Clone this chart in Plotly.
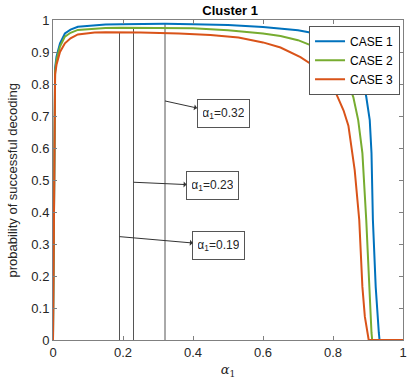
import plotly.graph_objects as go

# ---- data ----
case1_x = [0, 0.003, 0.006, 0.01, 0.015, 0.02, 0.034, 0.05, 0.071, 0.1, 0.119, 0.15, 0.194, 0.25, 0.32, 0.4, 0.5,
           0.6, 0.65, 0.7, 0.773, 0.8, 0.83, 0.86, 0.881, 0.895, 0.905, 0.91, 0.914, 0.922, 0.931, 0.933, 1.0]
case1_y = [0, 0.55, 0.85, 0.885, 0.91, 0.927, 0.958, 0.97, 0.979, 0.982, 0.984, 0.986, 0.987, 0.988, 0.988, 0.987, 0.984,
           0.978, 0.974, 0.968, 0.953, 0.943, 0.925, 0.89, 0.834, 0.76, 0.687, 0.584, 0.375, 0.166, 0.022, 0, 0]

case2_x = [0, 0.003, 0.006, 0.01, 0.015, 0.02, 0.034, 0.05, 0.071, 0.1, 0.119, 0.15, 0.194, 0.23, 0.3, 0.4, 0.5,
           0.6, 0.65, 0.7, 0.773, 0.8, 0.834, 0.858, 0.872, 0.884, 0.895, 0.903, 0.91, 0.912, 1.0]
case2_y = [0, 0.55, 0.84, 0.875, 0.9, 0.917, 0.948, 0.96, 0.969, 0.972, 0.974, 0.975, 0.976, 0.976, 0.976, 0.974, 0.968,
           0.958, 0.95, 0.937, 0.905, 0.88, 0.834, 0.759, 0.687, 0.584, 0.375, 0.166, 0.022, 0, 0]

case3_x = [0, 0.003, 0.006, 0.01, 0.015, 0.02, 0.034, 0.05, 0.071, 0.1, 0.119, 0.15, 0.19, 0.25, 0.36, 0.45, 0.53,
           0.6, 0.65, 0.707, 0.75, 0.773, 0.801, 0.83, 0.844, 0.848, 0.862, 0.875, 0.884, 0.891, 0.902, 1.0]
case3_y = [0, 0.55, 0.83, 0.86, 0.885, 0.9, 0.927, 0.943, 0.955, 0.959, 0.961, 0.962, 0.962, 0.961, 0.958, 0.953, 0.945,
           0.93, 0.914, 0.884, 0.853, 0.834, 0.79, 0.718, 0.67, 0.635, 0.531, 0.375, 0.166, 0.073, 0, 0]

marker_x = [0.19, 0.23, 0.32]
marker_top = [0.962, 0.976, 0.988]
marker_labels = ["α<sub>1</sub>=0.19", "α<sub>1</sub>=0.23", "α<sub>1</sub>=0.32"]
# label box centres and arrow tail heights (data units)
label_x = [0.474, 0.456, 0.486]
label_y = [0.296, 0.482, 0.707]
arrow_tail_y = [0.323, 0.493, 0.747]

x_ticks = [0, 0.2, 0.4, 0.6, 0.8, 1]
x_ticklabels = ["0", "0.2", "0.4", "0.6", "0.8", "1"]
y_ticks = [0, 0.1, 0.2, 0.3, 0.4, 0.5, 0.6, 0.7, 0.8, 0.9, 1]
y_ticklabels = ["0", "0.1", "0.2", "0.3", "0.4", "0.5", "0.6", "0.7", "0.8", "0.9", "1"]

names = ["CASE 1", "CASE 2", "CASE 3"]
colors = ["#0072BD", "#77AC30", "#D95319"]

FONT = "Liberation Sans, Arial, sans-serif"

fig = go.Figure()

# vertical marker lines
for mx, mt in zip(marker_x, marker_top):
    fig.add_trace(go.Scatter(x=[mx, mx], y=[0, mt], mode="lines",
                             line=dict(color="#555555", width=1), showlegend=False, hoverinfo="skip"))

for xs, ys, nm, c in zip([case1_x, case2_x, case3_x], [case1_y, case2_y, case3_y], names, colors):
    fig.add_trace(go.Scatter(x=xs, y=ys, mode="lines", name=nm, line=dict(color=c, width=2)))

annotations = []
for mx, lab, lx, ly, ty in zip(marker_x, marker_labels, label_x, label_y, arrow_tail_y):
    annotations.append(dict(x=mx, y=ty, ax=lx, ay=ly, xref="x", yref="y", axref="x", ayref="y",
                            text=lab, showarrow=True, arrowside="start", arrowhead=2, arrowsize=1.4,
                            arrowwidth=1, arrowcolor="#333333", width=41, height=17,
                            font=dict(family=FONT, size=12, color="#262626"),
                            bordercolor="#555555", borderwidth=1, borderpad=5, bgcolor="white"))

# y-axis label placed as rotated annotation
annotations.append(dict(text="probability of successful decoding", xref="paper", yref="paper",
                        x=(12 - 53) / 354, y=0.5, xanchor="center", yanchor="middle", textangle=-90,
                        showarrow=False, font=dict(family=FONT, size=13, color="#262626")))

fig.update_layout(
    width=411, height=385,
    margin=dict(l=53, r=4, t=19.5, b=45),
    paper_bgcolor="white", plot_bgcolor="white",
    font=dict(family=FONT, size=13, color="#262626"),
    title=dict(text="<b>Cluster 1</b>", x=0.56, xanchor="center", y=1 - 10 / 385, yref="container",
               yanchor="middle", font=dict(family=FONT, size=13, color="#000000")),
    showlegend=True,
    legend=dict(x=(404 - 53) / 354, y=0.982, xanchor="right", yanchor="top", bgcolor="white",
                bordercolor="#555555", borderwidth=1, font=dict(family=FONT, size=12, color="#000000"),
                itemwidth=30, tracegroupgap=0),
    annotations=annotations,
)

fig.update_xaxes(range=[0, 1], tickvals=x_ticks, ticktext=x_ticklabels, ticks="inside", ticklen=4,
                 tickcolor="#808080", showline=True, linecolor="#808080", linewidth=1, mirror="ticks",
                 showgrid=False, zeroline=False, tickfont=dict(size=13, color="#262626"),
                 title=dict(text="<i>α</i><sub>1</sub>", standoff=6,
                            font=dict(family="DejaVu Serif, serif", size=13, color="#262626")))
fig.update_yaxes(range=[0, 1], tickvals=y_ticks, ticktext=y_ticklabels, ticks="inside", ticklen=4,
                 tickcolor="#808080", showline=True, linecolor="#808080", linewidth=1, mirror="ticks",
                 showgrid=False, zeroline=False, tickfont=dict(size=13, color="#262626"))

fig.write_html("out.html")
